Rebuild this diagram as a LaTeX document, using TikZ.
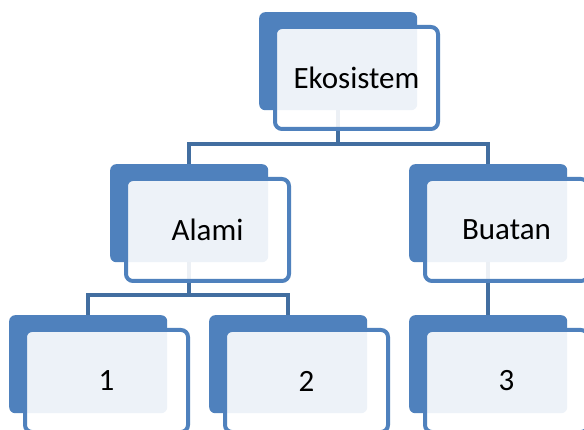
\documentclass[tikz,border=0pt]{standalone}
\usepackage{fontspec}
\setmainfont{Carlito}
\usetikzlibrary{calc,positioning}
\definecolor{boxblue}{RGB}{79,129,189}
\definecolor{linkblue}{RGB}{66,110,160}
\tikzset{
	backbox/.style={anchor=north west, fill=boxblue, rounded corners=6pt, minimum width=158pt, minimum height=98pt, inner sep=0pt},
	frontbox/.style={draw=boxblue, line width=4pt, fill=white, fill opacity=0.9, text opacity=1, rounded corners=7pt, minimum width=163pt, minimum height=102pt, inner sep=0pt, outer sep=0pt, font=\fontsize{31}{37}\selectfont},
	link/.style={draw=linkblue, line width=4.5pt}
}

\begin{document}
\begin{tikzpicture}[x=1pt, y=-1pt]
		%%%%% START %%%%%
		
		\fill[white] (0, 0) rectangle (584, 430);
		\useasboundingbox (0, 0) rectangle (584, 430);
		\clip (0, 0) rectangle (584, 430);
		
		% back boxes
		\node[backbox] (eko-b) at (259, 12) {};
		\node[backbox] (alami-b) at (110, 164) {};
		\node[backbox] (buatan-b) at (409, 164) {};
		\node[backbox] (n1-b) at (9, 315) {};
		\node[backbox] (n2-b) at (209, 315) {};
		\node[backbox] (n3-b) at (409, 315) {};
		
		% links
		\draw[link] (eko-b.south) -- ($(eko-b.south |- alami-b.north)+(0, 20pt)$);
		\draw[link] (alami-b.north) -- ++(0, 20pt) -| (buatan-b.north);
		\draw[link] (alami-b.south) -- ($(alami-b.south |- n1-b.north)+(0, 20pt)$);
		\draw[link] (n1-b.north) -- ++(0, 20pt) -| (n2-b.north);
		\draw[link] (buatan-b.south) -- (n3-b.north);
		
		% front boxes
		\node[frontbox, below right=15pt and 16pt of eko-b.north west] (eko) {Ekosistem};
		\node[frontbox, below right=15pt and 16pt of alami-b.north west] (alami) {Alami};
		\node[frontbox, below right=15pt and 16pt of buatan-b.north west] (buatan) {Buatan};
		\node[frontbox, below right=15pt and 16pt of n1-b.north west] (n1) {1};
		\node[frontbox, below right=15pt and 16pt of n2-b.north west] (n2) {2};
		\node[frontbox, below right=15pt and 16pt of n3-b.north west] (n3) {3};
		
		%%%%% END %%%%%
	\end{tikzpicture}
\end{document}
